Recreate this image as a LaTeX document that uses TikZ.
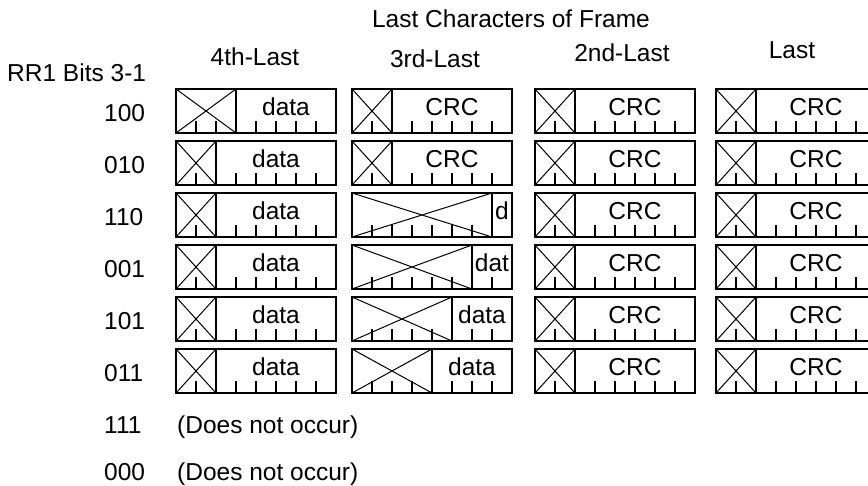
\documentclass[tikz,border=0pt]{standalone}
\usepackage{fontspec}
\setmainfont{Liberation Sans}
\usepackage{tikz}
\usetikzlibrary{calc}

% one character of the frame: name, left, top, unused bits, contents
\newcommand{\charframe}[5]{
  \node[charbox, anchor=north west] (#1) at (#2,#3) {};
  \draw[unused] (#1.north west) -- ++(#4*20,44) (#1.south west) -- ++(#4*20,-44);
  \draw[divider] ($(#1.north west)+(#4*20,0)$) -- ++(0,44);
  \foreach \k in {1,...,7} {\draw[bittick] ($(#1.south west)+(\k*20,0)$) -- ++(0,-12);}
  \node[txt, anchor=base] (#1-txt) at ($(#1.north west)+({(#4+8)*10},27)$) {#5};
}

\begin{document}
\begin{tikzpicture}[
    x=1pt, y=-1pt,
    txt/.style={font=\fontsize{24.5}{29}\selectfont, inner sep=0pt},
    charbox/.style={rectangle, draw, line width=2pt, minimum width=160pt, minimum height=44pt, inner sep=0pt, outer sep=0pt},
    unused/.style={line width=1pt},
    divider/.style={line width=1.6pt},
    bittick/.style={line width=1.4pt},
]
\useasboundingbox (0,0) rectangle (868,486);
\clip (0,0) rectangle (868,486);

\node[txt, anchor=base] (title) at (511,28) {Last Characters of Frame};
\node[txt, anchor=base] (h4) at (255,66) {4th-Last};
\node[txt, anchor=base] (h3) at (435,68) {3rd-Last};
\node[txt, anchor=base] (h2) at (622,62) {2nd-Last};
\node[txt, anchor=base] (h1) at (792,59) {Last};
\node[txt, anchor=base west] (rrbits) at (7,82) {RR1 Bits 3-1};

\node[txt, anchor=base west] (r100) at (104,122) {100};
\node[txt, anchor=base west] (r010) at (104,174) {010};
\node[txt, anchor=base west] (r110) at (104,226) {110};
\node[txt, anchor=base west] (r001) at (104,278) {001};
\node[txt, anchor=base west] (r101) at (104,330) {101};
\node[txt, anchor=base west] (r011) at (104,382) {011};
\node[txt, anchor=base west] (r111) at (104,433) {111};
\node[txt, anchor=base west] (r000) at (104,480) {000};

% 4th-last character
\charframe{fourth100}{176}{89}{3}{data}
\charframe{fourth010}{176}{141}{2}{data}
\charframe{fourth110}{176}{193}{2}{data}
\charframe{fourth001}{176}{245}{2}{data}
\charframe{fourth101}{176}{297}{2}{data}
\charframe{fourth011}{176}{349}{2}{data}

% 3rd-last character
\charframe{third100}{352}{89}{2}{CRC}
\charframe{third010}{352}{141}{2}{CRC}
\charframe{third110}{352}{193}{7}{d}
\charframe{third001}{352}{245}{6}{dat}
\charframe{third101}{352}{297}{5}{data}
\charframe{third011}{352}{349}{4}{data}

% 2nd-last character
\charframe{second100}{535}{89}{2}{CRC}
\charframe{second010}{535}{141}{2}{CRC}
\charframe{second110}{535}{193}{2}{CRC}
\charframe{second001}{535}{245}{2}{CRC}
\charframe{second101}{535}{297}{2}{CRC}
\charframe{second011}{535}{349}{2}{CRC}

% last character
\charframe{last100}{716}{89}{2}{CRC}
\charframe{last010}{716}{141}{2}{CRC}
\charframe{last110}{716}{193}{2}{CRC}
\charframe{last001}{716}{245}{2}{CRC}
\charframe{last101}{716}{297}{2}{CRC}
\charframe{last011}{716}{349}{2}{CRC}

\node[txt, anchor=base west] (never111) at (177,433) {(Does not occur)};
\node[txt, anchor=base west] (never000) at (177,480) {(Does not occur)};

\end{tikzpicture}
\end{document}
